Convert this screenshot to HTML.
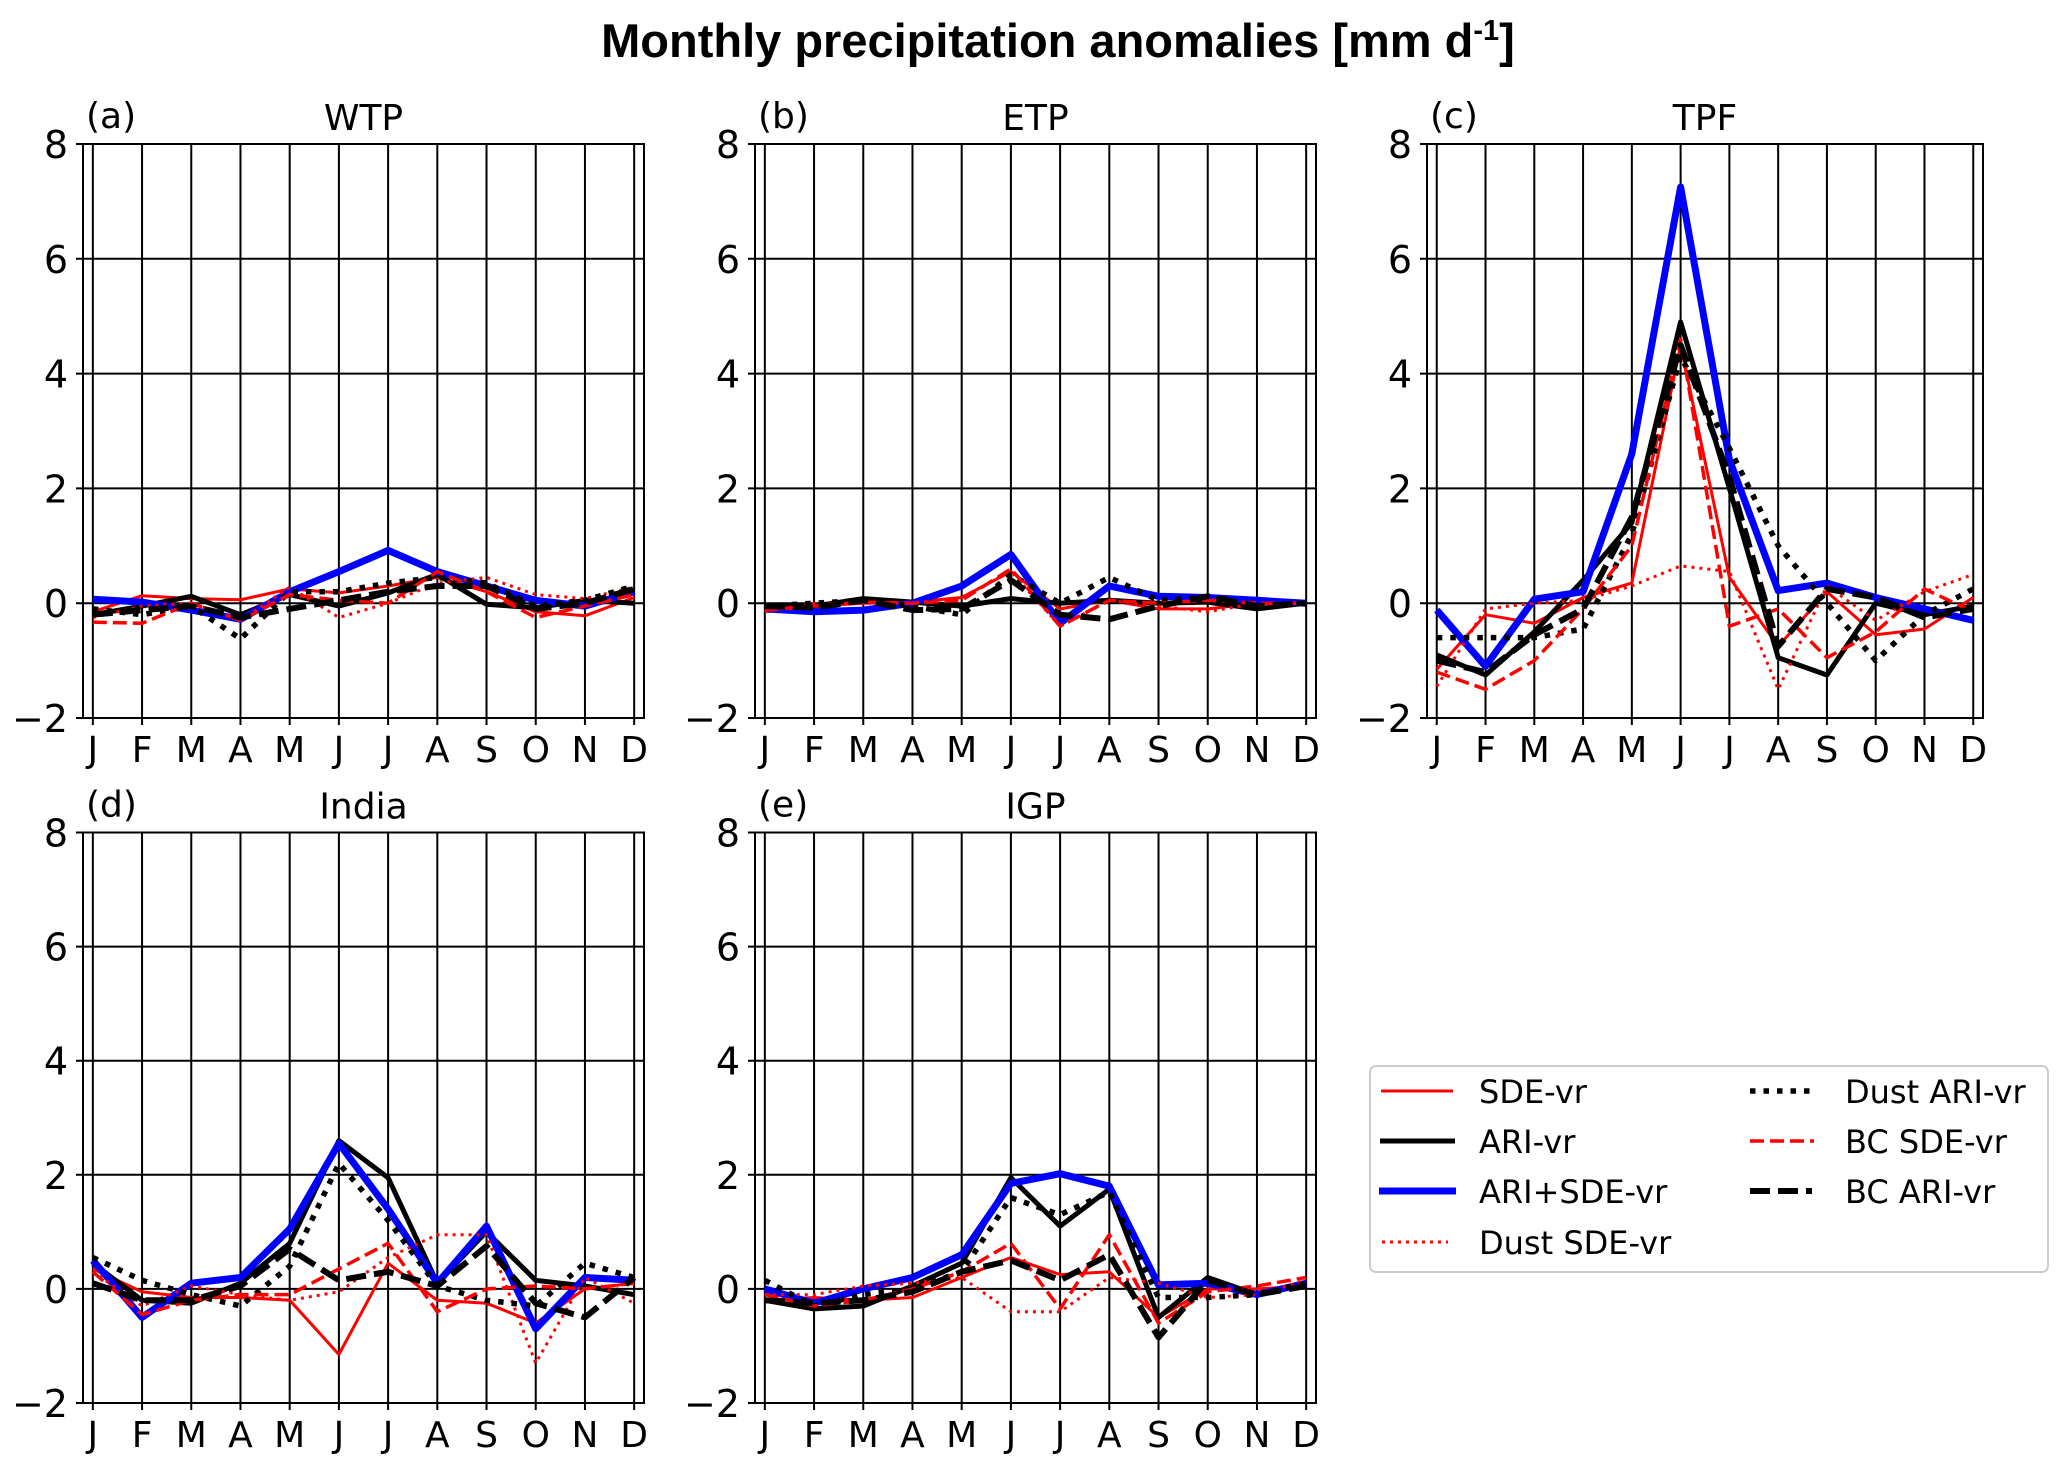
<!DOCTYPE html>
<html><head><meta charset="utf-8"><style>
html,body{margin:0;padding:0;background:#fff;}
svg{display:block;font-family:"DejaVu Sans","Liberation Sans",sans-serif;}
</style></head><body>
<svg id="fig" width="2067" height="1474" viewBox="0 0 2067 1474" xmlns="http://www.w3.org/2000/svg">
<rect width="2067" height="1474" fill="#fff"/>
<text x="1058" y="57" text-anchor="middle" font-size="47" font-weight="bold" font-family="Liberation Sans, sans-serif">Monthly precipitation anomalies [mm d<tspan font-size="29" dy="-17">-1</tspan><tspan dy="17">]</tspan></text>
<g id="panels"></g>
<g>
<rect x="1370" y="1066" width="678" height="206" rx="6" fill="#fff" stroke="#ccc" stroke-width="2"/>
<line x1="1381" y1="1091" x2="1453" y2="1091" stroke="#ff0000" stroke-width="3"/>
<text x="1479" y="1103" font-size="32">SDE-vr</text>
<line x1="1380" y1="1141" x2="1455" y2="1141" stroke="#000" stroke-width="5"/>
<text x="1479" y="1153" font-size="32">ARI-vr</text>
<line x1="1379" y1="1191" x2="1456" y2="1191" stroke="#0000ff" stroke-width="7"/>
<text x="1479" y="1203" font-size="32">ARI+SDE-vr</text>
<line x1="1382" y1="1242" x2="1448" y2="1242" stroke="#ff0000" stroke-width="3" stroke-dasharray="3,5"/>
<text x="1479" y="1254" font-size="32">Dust SDE-vr</text>
<line x1="1750" y1="1091" x2="1812" y2="1091" stroke="#000" stroke-width="5.5" stroke-dasharray="5.5,8"/>
<text x="1845" y="1103" font-size="32">Dust ARI-vr</text>
<line x1="1750" y1="1141" x2="1814" y2="1141" stroke="#ff0000" stroke-width="3.5" stroke-dasharray="14,6"/>
<text x="1845" y="1153" font-size="32">BC SDE-vr</text>
<line x1="1750" y1="1191" x2="1812" y2="1191" stroke="#000" stroke-width="6" stroke-dasharray="20,8"/>
<text x="1845" y="1203" font-size="32">BC ARI-vr</text>
</g>
</svg>
<script>
const months = ["J","F","M","A","M","J","J","A","S","O","N","D"];
const yTicks = [-2,0,2,4,6,8];
const yTickLabels = ["\u22122","0","2","4","6","8"];
const panelNames = ["WTP","ETP","TPF","India","IGP"];
const panelLetters = ["(a)","(b)","(c)","(d)","(e)"];

const wtpSDE    = [-0.15,0.13,0.08,0.06,0.25,0.18,0.3,0.45,0.2,-0.15,-0.22,0.1];
const wtpARI    = [-0.2,-0.05,0.12,-0.2,0.15,-0.05,0.18,0.5,-0.02,-0.08,0.05,0.0];
const wtpARISDE = [0.07,0.02,-0.12,-0.28,0.2,0.55,0.92,0.55,0.3,0.05,-0.05,0.2];
const wtpDustSDE= [-0.25,-0.05,0.0,-0.3,0.28,-0.25,0.0,0.35,0.45,0.15,0.08,0.28];
const wtpDustARI= [-0.1,-0.2,-0.05,-0.62,0.2,0.2,0.35,0.45,0.35,-0.05,0.05,0.3];
const wtpBCSDE  = [-0.33,-0.35,0.0,-0.3,0.15,0.05,0.0,0.55,0.2,-0.25,-0.05,0.15];
const wtpBCARI  = [-0.2,-0.12,-0.05,-0.25,-0.1,0.05,0.2,0.3,0.3,-0.1,0.0,0.25];

const etpSDE    = [-0.15,-0.05,0.0,0.02,0.1,0.55,-0.1,0.05,-0.1,-0.1,0.0,-0.02];
const etpARI    = [-0.05,-0.05,0.08,0.02,-0.05,0.08,0.0,0.05,0.0,0.02,-0.1,0.0];
const etpARISDE = [-0.1,-0.15,-0.12,0.0,0.3,0.85,-0.35,0.3,0.12,0.1,0.05,0.0];
const etpDustSDE= [-0.15,0.0,0.0,0.0,0.1,0.55,-0.4,0.05,-0.05,-0.15,0.0,0.0];
const etpDustARI= [-0.05,0.0,0.05,-0.05,-0.2,0.5,0.0,0.45,0.05,0.1,-0.05,0.0];
const etpBCSDE  = [-0.12,-0.05,0.02,0.0,0.05,0.6,-0.4,0.05,0.0,0.05,0.0,0.0];
const etpBCARI  = [-0.05,-0.08,0.05,-0.12,-0.1,0.4,-0.2,-0.28,-0.05,0.12,-0.05,0.0];

const tpfSDE    = [-1.15,-0.2,-0.35,0.1,0.35,4.5,0.45,-0.75,0.2,-0.55,-0.45,0.1];
const tpfARI    = [-0.9,-1.25,-0.5,0.4,1.4,4.9,2.0,-0.95,-1.25,0.0,-0.2,-0.05];
const tpfARISDE = [-0.12,-1.1,0.07,0.2,2.6,7.25,2.5,0.22,0.35,0.1,-0.1,-0.3];
const tpfDustSDE= [-1.45,-0.1,0.0,0.05,0.3,0.65,0.55,-1.5,0.3,-0.3,0.2,0.5];
const tpfDustARI= [-0.6,-0.6,-0.6,-0.45,1.2,4.3,2.7,1.0,0.0,-1.0,-0.2,0.25];
const tpfBCSDE  = [-1.2,-1.5,-1.0,-0.1,1.0,4.6,-0.4,-0.1,-0.95,-0.5,0.25,-0.15];
const tpfBCARI  = [-1.0,-1.2,-0.55,-0.1,1.5,4.5,2.2,-0.75,0.25,0.1,-0.25,-0.1];

const indSDE    = [0.35,-0.05,-0.15,-0.15,-0.2,-1.15,0.45,-0.2,-0.25,-0.6,0.0,0.1];
const indARI    = [0.45,-0.2,-0.25,0.1,0.8,2.6,1.95,0.1,1.0,0.15,0.05,-0.1];
const indARISDE = [0.5,-0.5,0.1,0.2,1.05,2.55,1.4,0.1,1.1,-0.7,0.2,0.15];
const indDustSDE= [0.3,-0.3,0.05,-0.1,-0.2,-0.05,0.55,0.95,0.95,-1.3,0.2,-0.25];
const indDustARI= [0.55,0.15,-0.1,-0.3,0.4,2.2,1.2,0.05,-0.2,-0.3,0.45,0.2];
const indBCSDE  = [0.3,-0.45,-0.2,-0.1,-0.1,0.35,0.8,-0.4,0.0,0.05,0.0,0.1];
const indBCARI  = [0.1,-0.2,-0.2,0.05,0.7,0.15,0.3,0.05,0.75,-0.25,-0.5,0.2];

const igpSDE    = [-0.2,-0.15,-0.2,-0.15,0.2,0.55,0.25,0.3,-0.5,0.0,0.0,0.05];
const igpARI    = [-0.2,-0.35,-0.3,0.05,0.45,1.95,1.1,1.75,-0.5,0.2,-0.1,0.1];
const igpARISDE = [0.0,-0.25,0.0,0.2,0.6,1.85,2.02,1.8,0.07,0.1,-0.1,0.1];
const igpDustSDE= [-0.1,-0.1,0.05,0.1,0.2,-0.4,-0.4,0.2,0.1,-0.15,-0.1,0.15];
const igpDustARI= [0.15,-0.3,-0.1,0.0,0.3,1.6,1.3,1.7,-0.15,-0.15,-0.1,0.1];
const igpBCSDE  = [-0.1,-0.3,-0.2,0.0,0.3,0.8,-0.35,0.95,-0.6,-0.05,0.05,0.2];
const igpBCARI  = [-0.2,-0.25,-0.2,-0.05,0.3,0.5,0.15,0.6,-0.85,0.15,-0.1,0.05];

const panelData = [
 [wtpSDE,wtpARI,wtpARISDE,wtpDustSDE,wtpDustARI,wtpBCSDE,wtpBCARI],
 [etpSDE,etpARI,etpARISDE,etpDustSDE,etpDustARI,etpBCSDE,etpBCARI],
 [tpfSDE,tpfARI,tpfARISDE,tpfDustSDE,tpfDustARI,tpfBCSDE,tpfBCARI],
 [indSDE,indARI,indARISDE,indDustSDE,indDustARI,indBCSDE,indBCARI],
 [igpSDE,igpARI,igpARISDE,igpDustSDE,igpDustARI,igpBCSDE,igpBCARI]
];
const seriesKeys = ["sde","ari","ari-sde","dust-sde","dust-ari","bc-sde","bc-ari"];
const styles = [
 {c:"#ff0000",w:3,d:""},
 {c:"#000",w:5,d:""},
 {c:"#0000ff",w:7,d:""},
 {c:"#ff0000",w:3,d:"3,5"},
 {c:"#000",w:5.5,d:"5.5,8"},
 {c:"#ff0000",w:3.5,d:"14,6"},
 {c:"#000",w:6,d:"20,8"}
];
const boxes = [
 {l:83,r:644,t:144,b:718},
 {l:755,r:1316,t:144,b:718},
 {l:1427,r:1983,t:144,b:718},
 {l:83,r:644,t:832.5,b:1403},
 {l:755,r:1316,t:832.5,b:1403}
];
const NS="http://www.w3.org/2000/svg";
const root=document.getElementById("panels");
function mk(tag,attrs,parent){const e=document.createElementNS(NS,tag);for(const k in attrs)e.setAttribute(k,attrs[k]);parent.appendChild(e);return e;}
boxes.forEach((bx,pi)=>{
 const g=mk("g",{},root);
 
 
 const step=(bx.r-bx.l)/11.4;
 const xs=i=>bx.l+(i+0.2)*step;
 const ys=v=>bx.b-(v+2)/10*(bx.b-bx.t);
 months.forEach((m,i)=>{
  const ln=mk("line",{x1:xs(i),x2:xs(i),y1:bx.t,y2:bx.b+7,stroke:"#000","stroke-width":2},g);
  
  
  const t=mk("text",{x:xs(i),y:bx.b+44,"text-anchor":"middle","font-size":36},g);
  
  
  t.textContent=m;
 });
 yTicks.forEach((v,i)=>{
  const ln=mk("line",{x1:bx.l-7,x2:bx.r,y1:ys(v),y2:ys(v),stroke:"#000","stroke-width":2},g);
  
  
  const t=mk("text",{x:bx.l-15,y:ys(v)+14,"text-anchor":"end","font-size":38},g);
  
  
  t.textContent=yTickLabels[i];
 });
 const fr=mk("rect",{x:bx.l,y:bx.t,width:bx.r-bx.l,height:bx.b-bx.t,fill:"none",stroke:"#000","stroke-width":2},g);
 
 
 const clipId="clip"+pi;
 const cp=mk("clipPath",{id:clipId},g);
 mk("rect",{x:bx.l,y:bx.t,width:bx.r-bx.l,height:bx.b-bx.t},cp);
 const sg=mk("g",{"clip-path":"url(#"+clipId+")"},g);
 panelData[pi].forEach((arr,si)=>{
  const st=styles[si];
  const pts=arr.map((v,i)=>xs(i).toFixed(1)+","+ys(v).toFixed(1)).join(" ");
  const pl=mk("polyline",{points:pts,fill:"none",stroke:st.c,"stroke-width":st.w,"stroke-linejoin":"round"},sg);
  if(st.d)pl.setAttribute("stroke-dasharray",st.d);
  
  
 });
 const tt=mk("text",{x:(bx.l+bx.r)/2,y:bx.t-14,"text-anchor":"middle","font-size":36},g);
 
 
 tt.textContent=panelNames[pi];
 const lt=mk("text",{x:bx.l+3,y:bx.t-16,"font-size":36},g);
 
 
 lt.textContent=panelLetters[pi];
});
</script>
</body></html>
